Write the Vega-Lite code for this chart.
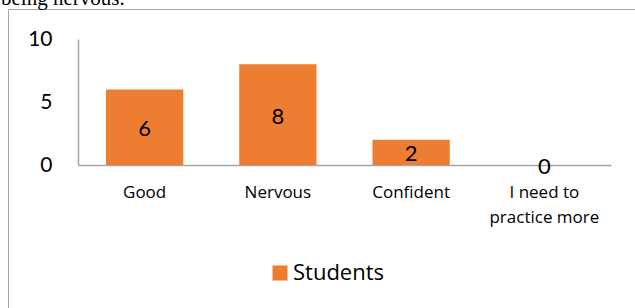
{
  "$schema": "https://vega.github.io/schema/vega-lite/v6.json",
  "autosize": {"type": "none"},
  "width": 627,
  "height": 299,
  "padding": {"left": 8, "top": 9, "right": 0, "bottom": 0},
  "background": "white",
  "config": {
    "view": {"stroke": "#a6a6a6", "strokeWidth": 1},
    "font": "Lato"
  },
  "title": {
    "text": "being nervous.",
    "font": "Liberation Serif",
    "fontSize": 21,
    "fontWeight": "normal",
    "color": "black",
    "anchor": "start",
    "frame": "group",
    "baseline": "alphabetic",
    "offset": -17,
    "dx": -7
  },
  "data": {
    "values": [
      {"category": "Good", "value": 6, "series": "Students"},
      {"category": "Nervous", "value": 8, "series": "Students"},
      {"category": "Confident", "value": 2, "series": "Students"},
      {"category": "I need to practice more", "value": 0, "series": "Students"}
    ]
  },
  "transform": [{"calculate": "datum.value / 2", "as": "mid"}],
  "encoding": {
    "x": {
      "field": "category",
      "type": "nominal",
      "sort": null,
      "scale": {"type": "band", "range": [70, 603], "paddingInner": 0.42, "paddingOuter": 0.21},
      "axis": {
        "title": null,
        "orient": "bottom",
        "offset": -143,
        "labelAngle": 0,
        "ticks": false,
        "domainColor": "#a6a6a6",
        "domainWidth": 1.5,
        "labelFont": "Open Sans",
        "labelFontSize": 17,
        "labelColor": "black",
        "labelPadding": 19,
        "labelLineHeight": 25,
        "labelExpr": "datum.label == 'I need to practice more' ? ['I need to', 'practice more'] : datum.label"
      }
    }
  },
  "layer": [
    {
      "mark": {"type": "bar"},
      "encoding": {
        "y": {
          "field": "value",
          "type": "quantitative",
          "scale": {"domain": [0, 10], "range": [156, 30], "nice": false},
          "axis": {
            "title": null,
            "orient": "left",
            "offset": -70,
            "values": [0, 5, 10],
            "ticks": false,
            "grid": false,
            "domainColor": "#a6a6a6",
            "domainWidth": 1.5,
            "labelFont": "Lato",
            "labelFontSize": 21,
            "labelColor": "black",
            "labelPadding": 26
          }
        },
        "color": {
          "field": "series",
          "type": "nominal",
          "scale": {"range": ["#ED7D31"]},
          "legend": {
            "title": null,
            "orient": "none",
            "legendX": 261,
            "legendY": 253,
            "symbolType": "square",
            "symbolSize": 225,
            "symbolStrokeWidth": 0,
            "labelFont": "Open Sans",
            "labelFontSize": 22,
            "labelColor": "black",
            "labelOffset": 2
          }
        }
      }
    },
    {
      "mark": {"type": "text", "font": "Lato", "fontSize": 22, "color": "black", "baseline": "middle", "dy": 2},
      "encoding": {
        "y": {"field": "mid", "type": "quantitative"},
        "text": {"field": "value", "type": "quantitative"}
      }
    }
  ]
}
